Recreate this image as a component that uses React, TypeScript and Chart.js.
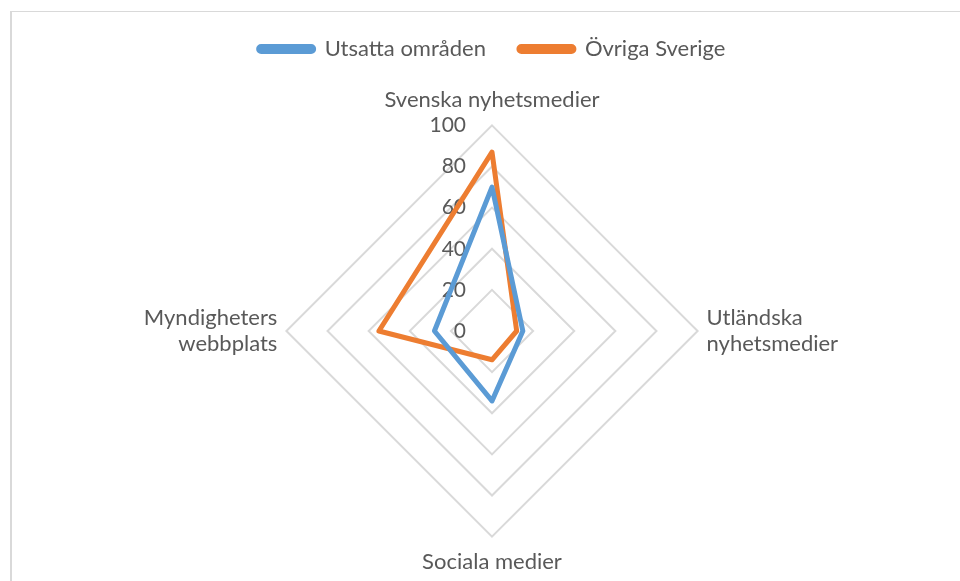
import React, { useEffect, useRef } from 'react';
import { Chart, registerables } from 'chart.js';

Chart.register(...registerables);

const categories: (string | string[])[] = [
  'Svenska nyhetsmedier',
  ['Utländska', 'nyhetsmedier'],
  'Sociala medier',
  ['Myndigheters', 'webbplats'],
];
const seriesNames = ['Utsatta områden', 'Övriga Sverige'];
const utsattaValues = [70, 15, 34, 28];
const ovrigaValues = [87, 12, 14, 55];
const tickValues = [0, 20, 40, 60, 80, 100];

const FONT = 'Lato, "Open Sans", sans-serif';
const TEXT = '#595959';
const GRID = '#d9d9d9';
const BLUE = '#5b9bd5';
const ORANGE = '#ed7d31';

const tickLabelPlugin = {
  id: 'tickLabelPlugin',
  beforeDatasetsDraw(chart: any) {
    const s = chart.scales.r;
    const ctx = chart.ctx;
    ctx.save();
    ctx.font = `21px ${FONT}`;
    ctx.fillStyle = TEXT;
    ctx.textAlign = 'right';
    ctx.textBaseline = 'middle';
    tickValues.forEach((v) => {
      const d = s.getDistanceFromCenterForValue(v);
      ctx.fillText(String(v), s.xCenter - 26, s.yCenter - d);
    });
    ctx.restore();
  },
};

export default function App() {
  const ref = useRef<HTMLCanvasElement>(null);
  useEffect(() => {
    if (!ref.current) return;
    const chart = new Chart(ref.current, {
      type: 'radar',
      data: {
        labels: categories,
        datasets: [
          {
            label: seriesNames[0],
            data: utsattaValues,
            borderColor: BLUE,
            backgroundColor: BLUE,
            borderWidth: 5,
            fill: false,
            pointRadius: 0,
            pointHoverRadius: 0,
            borderJoinStyle: 'round',
          },
          {
            label: seriesNames[1],
            data: ovrigaValues,
            borderColor: ORANGE,
            backgroundColor: ORANGE,
            borderWidth: 5,
            fill: false,
            pointRadius: 0,
            pointHoverRadius: 0,
            borderJoinStyle: 'round',
          },
        ],
      },
      options: {
        responsive: false,
        animation: false,
        layout: { padding: { top: 5, bottom: 6, left: 24, right: 0 } },
        plugins: {
          legend: {
            position: 'top',
            labels: {
              boxWidth: 55,
              boxHeight: 5,
              useBorderRadius: true,
              borderRadius: 2.5,
              padding: 33,
              color: TEXT,
              font: { family: FONT, size: 22 },
            },
          },
          subtitle: {
            display: true,
            text: '',
            position: 'top',
            weight: 500,
            font: { size: 1, lineHeight: 1 },
            padding: { top: 16, bottom: 0 },
          },
          tooltip: { enabled: false },
        },
        scales: {
          r: {
            min: 0,
            max: 100,
            beginAtZero: true,
            ticks: { display: false, stepSize: 20 },
            grid: { color: GRID, lineWidth: 2, circular: false },
            angleLines: { display: false },
            pointLabels: {
              color: TEXT,
              font: { family: FONT, size: 22 },
              padding: (ctx: any) => (ctx.index === 0 || ctx.index === 2 ? 12 : 9),
            },
          },
        },
      } as any,
      plugins: [tickLabelPlugin],
    });
    return () => chart.destroy();
  }, []);
  return (
    <div style={{ position: 'fixed', left: 0, top: 0, width: 960, height: 581, overflow: 'hidden', background: '#fff' }}>
      <div
        style={{
          position: 'absolute',
          left: 10,
          top: 11,
          width: 1000,
          height: 700,
          borderLeft: `2px solid ${GRID}`,
          borderTop: `1.5px solid ${GRID}`,
        }}
      />
      <canvas ref={ref} width={960} height={581} style={{ position: 'absolute', left: 0, top: 0 }} />
    </div>
  );
}
